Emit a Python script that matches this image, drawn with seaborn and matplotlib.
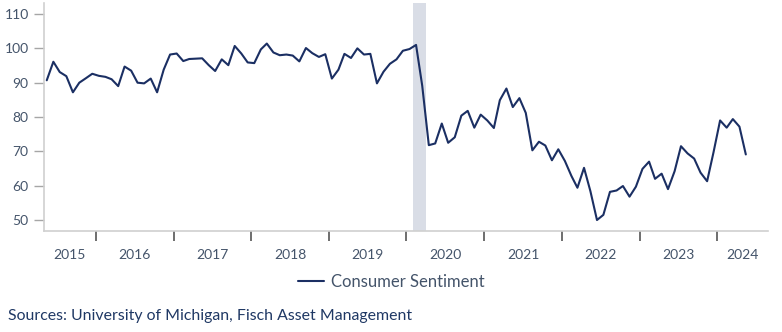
import matplotlib
matplotlib.use("Agg")
import matplotlib.pyplot as plt
import seaborn as sns
import pandas as pd

start_month = "2015-05-01"
sentiment = [
    90.7, 96.1, 93.1, 91.9, 87.2, 90.0, 91.3, 92.6,            # 2015 May-Dec
    92.0, 91.7, 91.0, 89.0, 94.7, 93.5, 90.0, 89.8, 91.2, 87.2, 93.8, 98.2,  # 2016
    98.5, 96.3, 96.9, 97.0, 97.1, 95.1, 93.4, 96.8, 95.1, 100.7, 98.5, 95.9, # 2017
    95.7, 99.7, 101.4, 98.8, 98.0, 98.2, 97.9, 96.2, 100.1, 98.6, 97.5, 98.3, # 2018
    91.2, 93.8, 98.4, 97.2, 100.0, 98.2, 98.4, 89.8, 93.2, 95.5, 96.8, 99.3,  # 2019
    99.8, 101.0, 89.1, 71.8, 72.3, 78.1, 72.5, 74.1, 80.4, 81.8, 76.9, 80.7,  # 2020
    79.0, 76.8, 84.9, 88.3, 82.9, 85.5, 81.2, 70.3, 72.8, 71.7, 67.4, 70.6,   # 2021
    67.2, 62.8, 59.4, 65.2, 58.4, 50.0, 51.5, 58.2, 58.6, 59.9, 56.8, 59.7,   # 2022
    64.9, 67.0, 62.0, 63.5, 59.0, 64.2, 71.5, 69.4, 67.9, 63.8, 61.3, 69.7,   # 2023
    79.0, 76.9, 79.4, 77.2, 69.1,                                             # 2024
]
years = list(range(2015, 2025))
recession_start = "2020-02-01"
recession_end = "2020-04-01"
series_name = "Consumer Sentiment"
source_text = "Sources: University of Michigan, Fisch Asset Management"
yticks = [50, 60, 70, 80, 90, 100, 110]

dates = pd.date_range(start_month, periods=len(sentiment), freq="MS") + pd.Timedelta(days=14)
df = pd.DataFrame({"date": dates, "value": sentiment})

sns.set_theme(style="white")
plt.rcParams['font.family'] = ['Lato', 'DejaVu Sans']

LINE = "#1b2f63"
TXT = "#44546a"

fig = plt.figure(figsize=(7.82, 3.32), dpi=100)
ax = fig.add_axes([44/782, 1-231/332, (767.5-44)/782, (231-2.7)/332])

ax.axvspan(pd.Timestamp(recession_start), pd.Timestamp(recession_end),
           color="#d9dde6", lw=0, zorder=0)
sns.lineplot(data=df, x="date", y="value", ax=ax, color=LINE, lw=1.5,
             label=series_name, legend=False)

xmin, xmax = pd.Timestamp("2015-05-02"), pd.Timestamp("2024-08-25")
ax.set_xlim(xmin, xmax)
ax.set_ylim(46.8, 113.3)
ax.set_yticks(yticks)

major = [pd.Timestamp(f"{y}-01-01") for y in years[1:]]
# labels centred on the visible part of each year
minor = []
for y in years:
    a = max(pd.Timestamp(f"{y}-01-01"), xmin)
    b = min(pd.Timestamp(f"{y+1}-01-01"), xmax)
    minor.append(a + (b - a) / 2)
ax.set_xticks(major)
ax.set_xticklabels([])
ax.set_xticks(minor, minor=True)
ax.set_xticklabels([str(y) for y in years], minor=True)

ax.tick_params(axis="x", which="major", direction="out", length=7, width=1.2,
               color="#555555", bottom=True)
ax.tick_params(axis="x", which="minor", length=0, pad=13, labelsize=10, labelcolor=TXT)
ax.tick_params(axis="y", direction="out", length=7, width=1, color="#a6a6a6",
               left=True, labelsize=10, labelcolor=TXT, pad=4)

for s in ["top", "right"]:
    ax.spines[s].set_visible(False)
for s in ["left", "bottom"]:
    ax.spines[s].set_color("#d0d0d0")
    ax.spines[s].set_linewidth(1.2)
ax.set_xlabel("")
ax.set_ylabel("")

h, l = ax.get_legend_handles_labels()
fig.legend(h, l, loc="center", bbox_to_anchor=(0.5, 1-282/332), frameon=False,
           fontsize=12, labelcolor=TXT, handlelength=1.6, handletextpad=0.4)

fig.text(8/782, 1-316/332, source_text, fontsize=11.4, color="#1f3864",
         ha="left", va="center")

fig.savefig("out.png", dpi=100)
